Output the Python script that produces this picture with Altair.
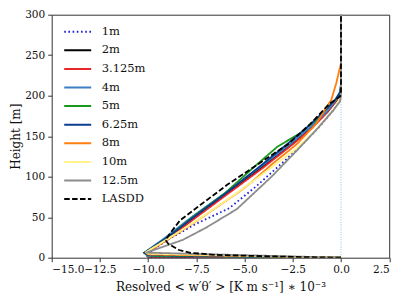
import altair as alt
import pandas as pd

series = ["1m", "2m", "3.125m", "4m", "5m", "6.25m", "8m", "10m", "12.5m", "LASDD"]
colors = ["#1f1fd6", "#000000", "#e8272b", "#3b80c4", "#1a9a1a", "#0b3d91",
          "#ff7f0e", "#fff38a", "#8c8c8c", "#000000"]
dashes = [[1.6, 2.6], [1, 0], [1, 0], [1, 0], [1, 0], [1, 0], [1, 0], [1, 0], [1, 0], [5.5, 2.4]]

z_1m = [0, 0.5, 4, 22, 42, 61, 88, 118, 140, 162, 182, 195, 205, 300]
x_1m = [0, -10.0, -10.1, -9.0, -7.5, -5.8, -4.4, -3.0, -2.0, -1.1, -0.4, -0.05, 0, 0]

z_2m = [0, 1, 5, 25, 50, 80, 110, 140, 160, 180, 195, 205, 215, 300]
x_2m = [0, -10.0, -10.1, -8.95, -7.6, -5.9, -4.2, -2.55, -1.55, -0.7, -0.2, -0.02, 0, 0]

z_3m = [0, 1.5, 5, 25, 50, 80, 110, 140, 160, 180, 195, 205, 215, 300]
x_3m = [0, -10.0, -10.1, -8.9, -7.5, -5.8, -4.1, -2.5, -1.5, -0.7, -0.2, -0.02, 0, 0]

z_4m = [0, 2, 6, 25, 50, 80, 110, 140, 160, 180, 195, 205, 215, 300]
x_4m = [0, -10.0, -10.2, -9.1, -7.75, -6.0, -4.3, -2.65, -1.65, -0.75, -0.25, -0.03, 0, 0]

z_5m = [0, 2.5, 6, 25, 50, 80, 110, 137, 154, 172, 190, 200, 210, 300]
x_5m = [0, -10.0, -10.2, -9.0, -7.7, -6.0, -4.6, -3.3, -2.1, -1.2, -0.5, -0.1, 0, 0]

z_6m = [0, 3.1, 6, 25, 50, 80, 110, 140, 160, 180, 195, 205, 215, 300]
x_6m = [0, -10.0, -10.2, -9.0, -7.65, -5.95, -4.35, -2.8, -1.8, -0.9, -0.3, -0.03, 0, 0]

z_8m = [0, 4, 6, 22, 45, 81, 92, 115, 140, 165, 195, 215, 240, 300]
x_8m = [0, -10.0, -10.1, -9.0, -7.5, -5.3, -4.7, -3.6, -2.3, -1.3, -0.5, -0.25, 0, 0]

z_10m = [0, 5, 7, 23, 47, 78, 108, 135, 160, 185, 200, 300]
x_10m = [0, -10.0, -10.1, -9.0, -7.4, -5.5, -3.8, -2.3, -1.2, -0.3, 0, 0]

z_12m = [0, 6.25, 22, 37, 60, 100, 132, 160, 182, 193, 200, 300]
x_12m = [0, -10.1, -8.2, -7.0, -5.4, -3.6, -2.3, -1.2, -0.4, -0.05, 0, 0]

z_las = [0, 1, 2.5, 3.5, 6, 9.5, 17, 22, 32, 46, 65, 90, 125, 140, 165, 190, 199, 205, 300]
x_las = [0, -2.5, -5.0, -6.5, -7.8, -8.4, -8.95, -9.1, -8.8, -8.35, -7.3, -5.9, -3.7, -2.75, -1.6, -0.6, -0.05, 0, 0]

profiles = [(x_1m, z_1m), (x_2m, z_2m), (x_3m, z_3m), (x_4m, z_4m), (x_5m, z_5m),
            (x_6m, z_6m), (x_8m, z_8m), (x_10m, z_10m), (x_12m, z_12m), (x_las, z_las)]

rows = []
for i, (name, (xs, zs)) in enumerate(zip(series, profiles)):
    for j, (xv, zv) in enumerate(zip(xs, zs)):
        rows.append({"series": name, "flux": xv, "z": zv, "order": j, "s": i})
df = pd.DataFrame(rows)

ref_df = pd.DataFrame({"flux": [0, 0], "z": [0, 300]})

font = "DejaVu Serif"

xscale = alt.Scale(domain=[-15, 2.5], nice=False, zero=False)
yscale = alt.Scale(domain=[0, 300], nice=False)

ref = alt.Chart(ref_df).mark_line(color="#9ccbe8", strokeWidth=1.2, strokeDash=[1, 1.5]).encode(
    x=alt.X("flux:Q", scale=xscale),
    y=alt.Y("z:Q", scale=yscale),
)

legend = alt.Legend(
    title=None, orient="none", legendX=18, legendY=9, padding=0,
    symbolType="M-2,0H2", symbolSize=182, symbolStrokeWidth=2,
    labelFont=font, labelFontSize=11.5, labelColor="#111",
    labelOffset=16, rowPadding=4.6, symbolLimit=0,
)

lines = alt.Chart(df).mark_line(strokeWidth=1.8, clip=True).encode(
    x=alt.X("flux:Q", scale=xscale,
            title="Resolved < w′θ′ >  [K m s⁻¹] ∗ 10⁻³",
            axis=alt.Axis(values=[-15, -12.5, -10, -7.5, -5, -2.5, 0, 2.5],
                          labelOverlap=False,
                          labelExpr="replace(format(datum.value, '.1f'), '-', '−')")),
    y=alt.Y("z:Q", scale=yscale, title="Height [m]",
            axis=alt.Axis(values=[0, 50, 100, 150, 200, 250, 300], labelOverlap=False)),
    color=alt.Color("series:N", scale=alt.Scale(domain=series, range=colors),
                    sort=series, legend=legend),
    strokeDash=alt.StrokeDash("series:N", scale=alt.Scale(domain=series, range=dashes),
                              sort=series, legend=legend),
    order=alt.Order("order:Q"),
    detail="series:N",
)

chart = alt.layer(ref, lines).properties(
    width=337.5, height=243,
    autosize=alt.AutoSizeParams(type="none"),
    padding={"left": 43.7, "top": 6.7, "right": 9.8, "bottom": 39.3},
).configure(
    font=font
).configure_view(
    stroke="#333", strokeWidth=1
).configure_axis(
    grid=False, domain=False, tickColor="#333", tickSize=4, tickWidth=1,
    labelFont=font, labelFontSize=10.5, labelColor="#111", labelPadding=3,
    titleFont=font, titleFontSize=12, titleFontWeight="normal", titleColor="#111",
).configure_axisX(titlePadding=6).configure_axisY(titlePadding=2)

chart.save("out.html", embed_options={"renderer": "svg", "actions": False})
